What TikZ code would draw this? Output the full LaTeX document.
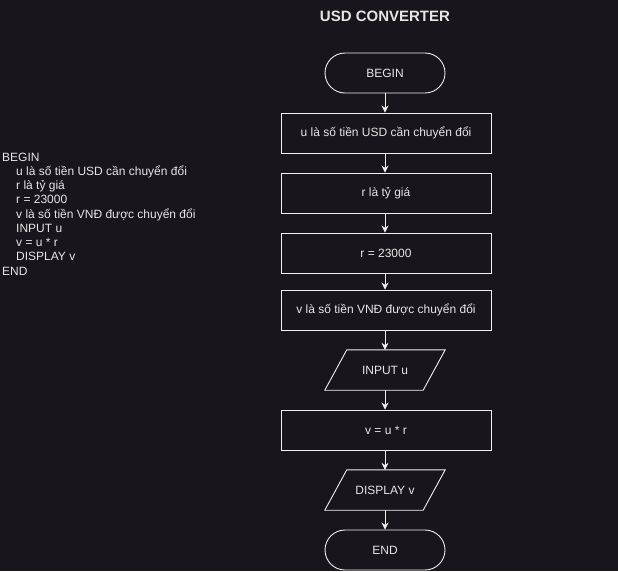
\documentclass[tikz,border=0pt]{standalone}
\usepackage{fontspec}
\setmainfont{Liberation Sans}
\usetikzlibrary{arrows.meta,calc}
\definecolor{bg}{RGB}{24,21,28}
\definecolor{fg}{RGB}{240,240,240}
\definecolor{txt}{RGB}{230,230,230}
\begin{document}
\begin{tikzpicture}[x=1pt,y=-1pt,
  every node/.style={font=\fontsize{12}{14}\selectfont, text=txt},
  procbox/.style={draw=fg, line width=0.9pt, minimum width=210pt, minimum height=40pt, inner sep=0pt},
  termbox/.style={draw=fg, line width=0.9pt, rounded corners=20pt, minimum width=120pt, minimum height=40pt, inner sep=0pt},
  iobox/.style={minimum width=120pt, minimum height=40pt, inner sep=0pt},
  flow/.style={draw=fg, line width=0.9pt, -{Stealth[length=7pt,width=7pt]}},
  io/.style={draw=fg, line width=0.9pt}
]
\fill[bg] (0,0) rectangle (618,571);
\useasboundingbox (0,0) rectangle (618,571);

\node[font=\fontsize{15}{17}\selectfont\bfseries] (title) at (385,16) {USD CONVERTER};

\node[termbox] (begin) at (385,73) {BEGIN};
\node[procbox] (s1) at (386,133) {u là số tiền USD cần chuyển đổi};
\node[procbox] (s2) at (386,193) {r là tỷ giá};
\node[procbox] (s3) at (386,253) {r = 23000};
\node[procbox] (s4) at (386,310) {v là số tiền VNĐ được chuyển đổi};
\node[iobox] (in) at (385,370) {INPUT u};
\node[procbox] (calc) at (386,430) {v = u * r};
\node[iobox] (out) at (385,490) {DISPLAY v};
\node[termbox] (end) at (385,550) {END};

\draw[io] ($(in.north west)+(22,0)$) -- (in.north east) -- ($(in.south east)+(-22,0)$) -- (in.south west) -- cycle;
\draw[io] ($(out.north west)+(22,0)$) -- (out.north east) -- ($(out.south east)+(-22,0)$) -- (out.south west) -- cycle;

\draw[flow] (begin.south) -- (begin.south |- s1.north);
\draw[flow] (begin.south |- s1.south) -- (begin.south |- s2.north);
\draw[flow] (begin.south |- s2.south) -- (begin.south |- s3.north);
\draw[flow] (begin.south |- s3.south) -- (begin.south |- s4.north);
\draw[flow] (begin.south |- s4.south) -- (in.north);
\draw[flow] (in.south) -- (in.south |- calc.north);
\draw[flow] (in.south |- calc.south) -- (out.north);
\draw[flow] (out.south) -- (end.north);

\node[anchor=north west, align=left, inner sep=0pt, font=\fontsize{12}{14.25}\selectfont] (code) at (2,152.5) {BEGIN\\
\hspace*{14pt}u là số tiền USD cần chuyển đổi\\
\hspace*{14pt}r là tỷ giá\\
\hspace*{14pt}r = 23000\\
\hspace*{14pt}v là số tiền VNĐ được chuyển đổi\\
\hspace*{14pt}INPUT u\\
\hspace*{14pt}v = u * r\\
\hspace*{14pt}DISPLAY v\\
END};
\end{tikzpicture}
\end{document}
